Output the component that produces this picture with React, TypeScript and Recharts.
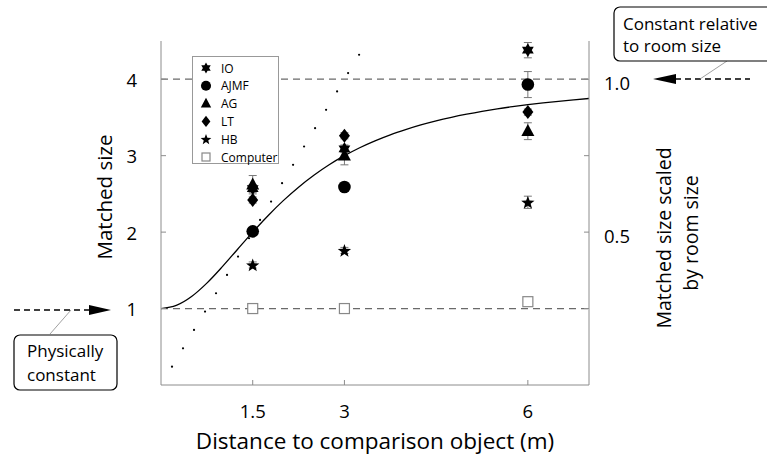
import React from 'react';
import {
  ComposedChart, XAxis, YAxis, Scatter, Line, ReferenceLine, ErrorBar, Legend,
} from 'recharts';

// ---------- data ----------
const distances = [1.5, 3, 6];
const ioValues = [2.57, 3.09, 4.38];
const ioErr = [0.05, 0.05, 0.1];
const ajmfValues = [2.01, 2.59, 3.93];
const ajmfErr = [0.04, 0.04, 0.17];
const agValues = [2.62, 3.0, 3.32];
const agErr = [0.12, 0.12, 0.11];
const ltValues = [2.42, 3.26, 3.57];
const ltErr = [0.04, 0.04, 0.04];
const hbValues = [1.57, 1.76, 2.39];
const hbErr = [0.04, 0.04, 0.08];
const computerValues = [1.0, 1.0, 1.09];

// model curve (solid line)
const curveX = [0, 0.25, 0.5, 0.75, 1, 1.25, 1.5, 1.75, 2, 2.25, 2.5, 2.75, 3, 3.25, 3.5, 3.75, 4, 4.25, 4.5, 4.75, 5, 5.25, 5.5, 5.75, 6, 6.25, 6.5, 6.75, 7];
const curveY = [1.0, 1.041, 1.158, 1.333, 1.545, 1.773, 2.0, 2.215, 2.412, 2.588, 2.744, 2.881, 3.0, 3.104, 3.194, 3.273, 3.341, 3.402, 3.455, 3.501, 3.542, 3.579, 3.612, 3.641, 3.667, 3.69, 3.711, 3.73, 3.748];

// dotted line points
const dotX = [0.18, 0.36, 0.54, 0.72, 0.9, 1.08, 1.26, 1.44, 1.62, 1.8, 1.98, 2.16, 2.34, 2.52, 2.7, 2.88, 3.06, 3.24];
const dotY = [0.24, 0.48, 0.72, 0.96, 1.2, 1.44, 1.68, 1.92, 2.16, 2.4, 2.64, 2.88, 3.12, 3.36, 3.6, 3.84, 4.08, 4.32];

const xTicks = [1.5, 3, 6];
const yTicks = [1, 2, 3, 4];
const rightTicks = [0.25, 0.5, 0.75, 1.0];
const rightTickLabels: Record<string, string> = { '0.5': '0.5', '1': '1.0' };
const xDomain = [0, 7];
const yDomain = [0, 4.5];
const rightDomain = [0, 1.125];

const legendNames = ['IO', 'AJMF', 'AG', 'LT', 'HB', 'Computer'];

// ---------- helpers ----------
const mk = (vals: number[], errs?: number[]) =>
  distances.map((x, i) => ({ x, y: vals[i], err: errs ? errs[i] : 0 }));

const curveData = curveX.map((x, i) => ({ x, y: curveY[i] }));
const dotData = dotX.map((x, i) => ({ x, y: dotY[i] }));
const rightHelper = [{ x: xDomain[0], y: rightDomain[0] }, { x: xDomain[1], y: rightDomain[1] }];

const FONT = '"Open Sans", "Noto Sans", sans-serif';
const AXIS = '#8c8c8c';

// ---------- shapes ----------
const hexPath = (cx: number, cy: number, r: number) => {
  const pts = (start: number) =>
    [0, 1, 2].map((k) => {
      const a = ((start + k * 120) * Math.PI) / 180;
      return `${cx + r * Math.cos(a)},${cy + r * Math.sin(a)}`;
    });
  const a = pts(-90);
  const b = pts(90);
  return `M${a[0]}L${a[1]}L${a[2]}Z M${b[0]}L${b[1]}L${b[2]}Z`;
};
const starPath = (cx: number, cy: number, r: number) => {
  const p: string[] = [];
  for (let k = 0; k < 10; k++) {
    const rr = k % 2 === 0 ? r : r * 0.42;
    const a = ((-90 + k * 36) * Math.PI) / 180;
    p.push(`${cx + rr * Math.cos(a)},${cy + rr * Math.sin(a)}`);
  }
  return `M${p.join('L')}Z`;
};

type Kind = 'hex' | 'circle' | 'tri' | 'diamond' | 'star' | 'square';

const Marker = ({ kind, cx, cy, s }: { kind: Kind; cx: number; cy: number; s: number }) => {
  switch (kind) {
    case 'hex':
      return <path d={hexPath(cx, cy, 6.8 * s)} fill="#000" />;
    case 'circle':
      return <circle cx={cx} cy={cy} r={6.3 * s} fill="#000" />;
    case 'tri': {
      const w = 13 * s, h = 12 * s;
      return <path d={`M${cx},${cy - h * 0.6}L${cx - w / 2},${cy + h * 0.4}L${cx + w / 2},${cy + h * 0.4}Z`} fill="#000" />;
    }
    case 'diamond': {
      const w = 11 * s, h = 14 * s;
      return <path d={`M${cx},${cy - h / 2}L${cx + w / 2},${cy}L${cx},${cy + h / 2}L${cx - w / 2},${cy}Z`} fill="#000" />;
    }
    case 'star':
      return <path d={starPath(cx, cy + 0.6 * s, 7 * s)} fill="#000" />;
    case 'square':
      return <rect x={cx - 5 * s} y={cy - 5 * s} width={10 * s} height={10 * s} fill="#fff" stroke="#888" strokeWidth={1.2} />;
  }
  return null;
};

const shapeFor = (kind: Kind) => (props: any) => <Marker kind={kind} cx={props.cx} cy={props.cy} s={1} />;
const NoShape = () => <g />;

const legendKinds: Kind[] = ['hex', 'circle', 'tri', 'diamond', 'star', 'square'];

const LegendBox = () => (
  <div style={{ width: 87, height: 108, border: '1px solid #999', background: '#fff', boxSizing: 'border-box', position: 'relative' }}>
    <svg width={87} height={108} style={{ position: 'absolute', left: 0, top: 0 }}>
      {legendNames.map((n, i) => (
        <g key={n}>
          <Marker kind={legendKinds[i]} cx={13} cy={11 + i * 17.8} s={0.8} />
          <text x={28} y={11 + i * 17.8} dominantBaseline="central" fontSize={12} fontFamily={FONT} fill="#000">{n}</text>
        </g>
      ))}
    </svg>
  </div>
);

// ---------- ticks ----------
const LeftTick = (p: any) => (
  <g>
    <line x1={p.x} y1={p.y} x2={p.x + 5} y2={p.y} stroke={AXIS} />
    <text x={137} y={p.y} textAnchor="end" dominantBaseline="central" fontSize={18.5} fontFamily={FONT} fill="#000">{p.payload.value}</text>
  </g>
);
const BottomTick = (p: any) => (
  <g>
    <line x1={p.x} y1={p.y} x2={p.x} y2={p.y - 5} stroke={AXIS} />
    <text x={p.x} y={410} textAnchor="middle" dominantBaseline="central" fontSize={18.5} fontFamily={FONT} fill="#000">{p.payload.value}</text>
  </g>
);
const TopTick = (p: any) => (
  <line x1={p.x} y1={p.y} x2={p.x} y2={p.y + 5} stroke={AXIS} />
);
const RightTick = (p: any) => {
  const lbl = rightTickLabels[String(p.payload.value)];
  return (
    <g>
      <line x1={p.x} y1={p.y} x2={p.x - 5} y2={p.y} stroke={AXIS} />
      {lbl ? (
        <text x={604} y={p.y + 3} textAnchor="start" dominantBaseline="central" fontSize={18.5} fontFamily={FONT} fill="#000">{lbl}</text>
      ) : null}
    </g>
  );
};

const Dot = (p: any) => <circle cx={p.cx} cy={p.cy} r={1.1} fill="#000" />;

export default function App() {
  return (
    <div style={{ position: 'absolute', left: 0, top: 0, width: 767, height: 460, background: '#fff' }}>
      <ComposedChart
        width={767}
        height={460}
        margin={{ top: 41, right: 138, bottom: 45, left: 121 }}
        style={{ fontFamily: FONT }}
      >
        <XAxis xAxisId="b" type="number" dataKey="x" domain={xDomain} ticks={xTicks} height={30}
          tickSize={0} tickMargin={0} axisLine={{ stroke: AXIS }} tickLine={false} tick={<BottomTick />} interval={0} />
        <XAxis xAxisId="top" orientation="top" type="number" dataKey="x" domain={xDomain} ticks={xTicks} height={0}
          tickSize={0} tickMargin={0} axisLine={{ stroke: AXIS }} tickLine={false} tick={<TopTick />} interval={0} />
        <YAxis yAxisId="l" type="number" domain={yDomain} ticks={yTicks} width={40}
          tickSize={0} tickMargin={0} axisLine={{ stroke: AXIS }} tickLine={false} tick={<LeftTick />} interval={0} />
        <YAxis yAxisId="right" orientation="right" type="number" dataKey="y" domain={rightDomain} ticks={rightTicks} width={40}
          tickSize={0} tickMargin={0} axisLine={{ stroke: AXIS }} tickLine={false} tick={<RightTick />} interval={0} />

        <Scatter xAxisId="top" yAxisId="right" data={rightHelper} dataKey="y" shape={<NoShape />} isAnimationActive={false} legendType="none" />

        <ReferenceLine xAxisId="b" yAxisId="l" y={1} stroke="#6a6a6a" strokeWidth={1.3} strokeDasharray="7 5" />
        <ReferenceLine xAxisId="b" yAxisId="l" y={4} stroke="#6a6a6a" strokeWidth={1.3} strokeDasharray="7 5" />

        <Line xAxisId="b" yAxisId="l" data={curveData} dataKey="y" type="monotone" stroke="#000" strokeWidth={1.3}
          dot={false} activeDot={false} isAnimationActive={false} legendType="none" />
        <Scatter xAxisId="b" yAxisId="l" data={dotData} dataKey="y" shape={<Dot />} isAnimationActive={false} legendType="none" />

        <Scatter xAxisId="b" yAxisId="l" name="Computer" data={mk(computerValues)} dataKey="y" shape={shapeFor('square')} isAnimationActive={false} />
        <Scatter xAxisId="b" yAxisId="l" name="HB" data={mk(hbValues, hbErr)} dataKey="y" shape={shapeFor('star')} isAnimationActive={false}>
          <ErrorBar dataKey="err" direction="y" width={4} stroke="#777" strokeWidth={1} />
        </Scatter>
        <Scatter xAxisId="b" yAxisId="l" name="AJMF" data={mk(ajmfValues, ajmfErr)} dataKey="y" shape={shapeFor('circle')} isAnimationActive={false}>
          <ErrorBar dataKey="err" direction="y" width={4} stroke="#777" strokeWidth={1} />
        </Scatter>
        <Scatter xAxisId="b" yAxisId="l" name="AG" data={mk(agValues, agErr)} dataKey="y" shape={shapeFor('tri')} isAnimationActive={false}>
          <ErrorBar dataKey="err" direction="y" width={4} stroke="#777" strokeWidth={1} />
        </Scatter>
        <Scatter xAxisId="b" yAxisId="l" name="IO" data={mk(ioValues, ioErr)} dataKey="y" shape={shapeFor('hex')} isAnimationActive={false}>
          <ErrorBar dataKey="err" direction="y" width={4} stroke="#777" strokeWidth={1} />
        </Scatter>
        <Scatter xAxisId="b" yAxisId="l" name="LT" data={mk(ltValues, ltErr)} dataKey="y" shape={shapeFor('diamond')} isAnimationActive={false}>
          <ErrorBar dataKey="err" direction="y" width={4} stroke="#777" strokeWidth={1} />
        </Scatter>

        <Legend layout="vertical" align="center" verticalAlign="middle" content={<LegendBox />}
          wrapperStyle={{ position: 'absolute', left: 192, top: 56, width: 87, height: 108, margin: 0 }} />
      </ComposedChart>

      <svg width={767} height={460} style={{ position: 'absolute', left: 0, top: 0, pointerEvents: 'none' }}>
        {/* axis titles */}
        <text x={104} y={197} transform="rotate(-90 104 197)" textAnchor="middle" dominantBaseline="central" fontSize={20.5} fontFamily={FONT} fill="#000">Matched size</text>
        <text x={663} y={238} transform="rotate(-90 663 238)" textAnchor="middle" dominantBaseline="central" fontSize={19.5} fontFamily={FONT} fill="#000">Matched size scaled</text>
        <text x={690} y={233} transform="rotate(-90 690 233)" textAnchor="middle" dominantBaseline="central" fontSize={19.5} fontFamily={FONT} fill="#000">by room size</text>
        <text x={375} y={440} textAnchor="middle" dominantBaseline="central" fontSize={22.5} fontFamily={FONT} fill="#000">Distance to comparison object (m)</text>

        {/* left annotation */}
        <line x1={14} y1={310} x2={90} y2={310} stroke="#000" strokeWidth={1.3} strokeDasharray="6 4" />
        <path d="M89,305 L111,310 L89,315 Z" fill="#000" />
        <line x1={50} y1={334} x2={71} y2={310} stroke="#888" strokeWidth={0.8} />
        <rect x={14} y={335} width={103} height={55} rx={6} fill="#fff" stroke="#000" strokeWidth={1.2} />
        <text x={27} y={357} fontSize={17} fontFamily={FONT} fill="#000">Physically</text>
        <text x={27} y={381} fontSize={17} fontFamily={FONT} fill="#000">constant</text>

        {/* right annotation */}
        <line x1={675} y1={79} x2={750} y2={79} stroke="#000" strokeWidth={1.3} strokeDasharray="6 4" />
        <path d="M676,74 L653,79 L676,84 Z" fill="#000" />
        <line x1={700} y1={79} x2={727} y2={61} stroke="#888" strokeWidth={0.8} />
        <rect x={614} y={7} width={170} height={54} rx={6} fill="#fff" stroke="#000" strokeWidth={1.2} />
        <text x={623} y={30} fontSize={17} fontFamily={FONT} fill="#000">Constant relative</text>
        <text x={623} y={52} fontSize={17} fontFamily={FONT} fill="#000">to room size</text>
      </svg>
    </div>
  );
}
